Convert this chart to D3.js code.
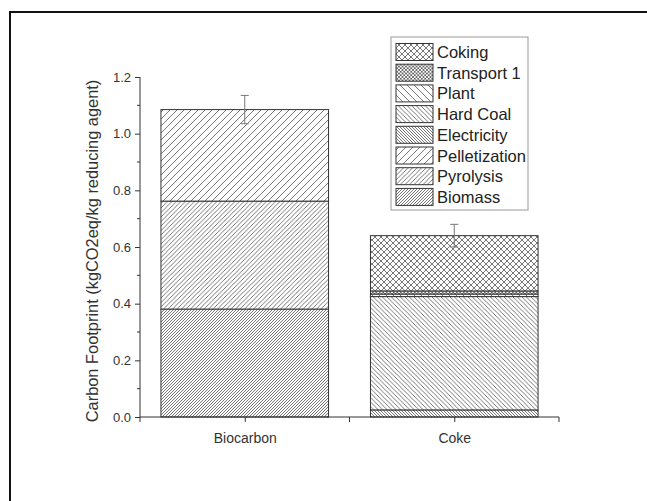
<!DOCTYPE html>
<html>
<head>
<meta charset="utf-8">
<script src="https://cdn.jsdelivr.net/npm/d3@7"></script>
<style>
  body { margin: 0; background: #fff; }
  svg { display: block; font-family: "Liberation Sans", Arial, sans-serif; }
</style>
</head>
<body>
<svg id="chart" width="647" height="501"></svg>
<script>
// data
var categories = ["Biocarbon", "Coke"];
var components = ["Biomass", "Pyrolysis", "Pelletization", "Electricity", "Hard Coal", "Plant", "Transport 1", "Coking"];
var biocarbonValues = [0.381, 0.381, 0.323, 0, 0, 0, 0, 0];
var cokeValues = [0, 0, 0, 0.025, 0.400, 0.009, 0.011, 0.195];
var errorValues = [0.05, 0.04];
var yTicks = [0, 0.2, 0.4, 0.6, 0.8, 1.0, 1.2];

// hatch style per component: direction and spacing
var hatch = {
	"Biomass": { dir: "/", s: 3 },
	"Pyrolysis": { dir: "/", s: 4.5 },
	"Pelletization": { dir: "/", s: 7 },
	"Electricity": { dir: "\\", s: 3 },
	"Hard Coal": { dir: "\\", s: 4.5 },
	"Plant": { dir: "\\", s: 7 },
	"Transport 1": { dir: "x", s: 3.5 },
	"Coking": { dir: "x", s: 6 }
};

var svg = d3.select("#chart");

// outer frame (runs off the right and bottom)
svg.append("rect")
	.attr("x", 10).attr("y", 12)
	.attr("width", 700).attr("height", 600)
	.attr("fill", "none").attr("stroke", "#111").attr("stroke-width", 2);

var defs = svg.append("defs");
components.forEach(function (c, i) {
	var h = hatch[c], s = h.s;
	var p = defs.append("pattern")
		.attr("id", "pat" + i)
		.attr("patternUnits", "userSpaceOnUse")
		.attr("width", s).attr("height", s);
	p.append("rect").attr("width", s).attr("height", s).attr("fill", "#fff");
	var fw = `M0,${s} L${s},0 M${-s},${s} L0,0 M${s},${2 * s} L${2 * s},${s}`;
	var bk = `M0,0 L${s},${s} M${-s},0 L0,${s} M${s},0 L${2 * s},${s}`;
	var d = h.dir == "/" ? fw : h.dir == "\\" ? bk : fw + " " + bk;
	p.append("path").attr("d", d)
		.attr("stroke", "#555").attr("stroke-width", 0.8).attr("fill", "none");
});

var x = d3.scaleLinear().domain([0.5, 2.5]).range([140, 559]);
var y = d3.scaleLinear().domain([0, 1.2]).range([417, 77]);

var table = categories.map(function (cat, i) {
	var row = { cat: cat, pos: i + 1, err: errorValues[i] };
	var vals = i == 0 ? biocarbonValues : cokeValues;
	components.forEach(function (c, j) { row[c] = vals[j]; });
	return row;
});

var series = d3.stack().keys(components)(table);
var barW = 0.8;

series.forEach(function (s, i) {
	svg.append("g").selectAll("rect")
		.data(s.filter(function (d) { return d[1] - d[0] > 0; }))
		.enter().append("rect")
		.attr("x", function (d) { return x(d.data.pos - barW / 2); })
		.attr("width", function (d) { return x(d.data.pos + barW / 2) - x(d.data.pos - barW / 2); })
		.attr("y", function (d) { return y(d[1]); })
		.attr("height", function (d) { return y(d[0]) - y(d[1]); })
		.attr("fill", "url(#pat" + i + ")")
		.attr("stroke", "#333").attr("stroke-width", 1);
});

// error bars
var totals = table.map(function (d) {
	return d3.sum(components, function (c) { return d[c]; });
});
var eb = svg.append("g").attr("stroke", "#777").attr("stroke-width", 1);
table.forEach(function (d, i) {
	var cx = x(d.pos), t = totals[i];
	eb.append("line").attr("x1", cx).attr("x2", cx).attr("y1", y(t + d.err)).attr("y2", y(t - d.err));
	eb.append("line").attr("x1", cx - 4).attr("x2", cx + 4).attr("y1", y(t + d.err)).attr("y2", y(t + d.err));
	eb.append("line").attr("x1", cx - 4).attr("x2", cx + 4).attr("y1", y(t - d.err)).attr("y2", y(t - d.err));
});

// y axis
var yAxis = d3.axisLeft(y).tickValues(yTicks).tickFormat(d3.format(".1f")).tickSize(5).tickPadding(4);
var gy = svg.append("g").attr("transform", "translate(140,0)").call(yAxis);
gy.selectAll(".tick line").attr("stroke", "#333");
gy.select(".domain").attr("stroke", "#333").attr("d", "M0," + y(0) + "V" + y(1.2));
gy.selectAll("text").attr("font-size", 13).attr("fill", "#333");
gy.selectAll(".minor").data(d3.range(0.1, 1.2, 0.2)).enter().append("line")
	.attr("x1", -3).attr("x2", 0)
	.attr("y1", function (d) { return y(d); }).attr("y2", function (d) { return y(d); })
	.attr("stroke", "#333");

// x axis
var xAxis = d3.axisBottom(x).tickValues([1, 2]).tickFormat(function (d) { return categories[d - 1]; })
	.tickSize(5).tickPadding(11);
var gx = svg.append("g").attr("transform", "translate(0," + y(0) + ")").call(xAxis);
gx.select(".domain").attr("stroke", "#333").attr("d", "M140,0H559");
gx.selectAll(".tick line").attr("stroke", "#333");
gx.selectAll("text").attr("font-size", 14).attr("fill", "#333");
gx.selectAll(".minor").data([0.5, 1.5, 2.5]).enter().append("line")
	.attr("x1", function (d) { return x(d); }).attr("x2", function (d) { return x(d); })
	.attr("y1", 0).attr("y2", 5).attr("stroke", "#333");

// y label
svg.append("text")
	.attr("transform", "translate(98,251) rotate(-90)")
	.attr("text-anchor", "middle")
	.attr("font-size", 16.4).attr("fill", "#333")
	.text("Carbon Footprint (kgCO2eq/kg reducing agent)");

// legend
var legend = svg.append("g");
legend.append("rect")
	.attr("x", 391).attr("y", 37).attr("width", 137).attr("height", 173)
	.attr("fill", "#fff").attr("stroke", "#999").attr("stroke-width", 1);
var order = components.slice().reverse();
var row = 20.7;
order.forEach(function (c, k) {
	var i = components.indexOf(c);
	var cy = 52 + k * row;
	legend.append("rect")
		.attr("x", 396).attr("y", cy - 8.5).attr("width", 37).attr("height", 17)
		.attr("fill", "url(#pat" + i + ")").attr("stroke", "#333").attr("stroke-width", 1);
	legend.append("text")
		.attr("x", 437).attr("y", cy + 6)
		.attr("font-size", 16.5).attr("fill", "#222")
		.text(c);
});
</script>
</body>
</html>
